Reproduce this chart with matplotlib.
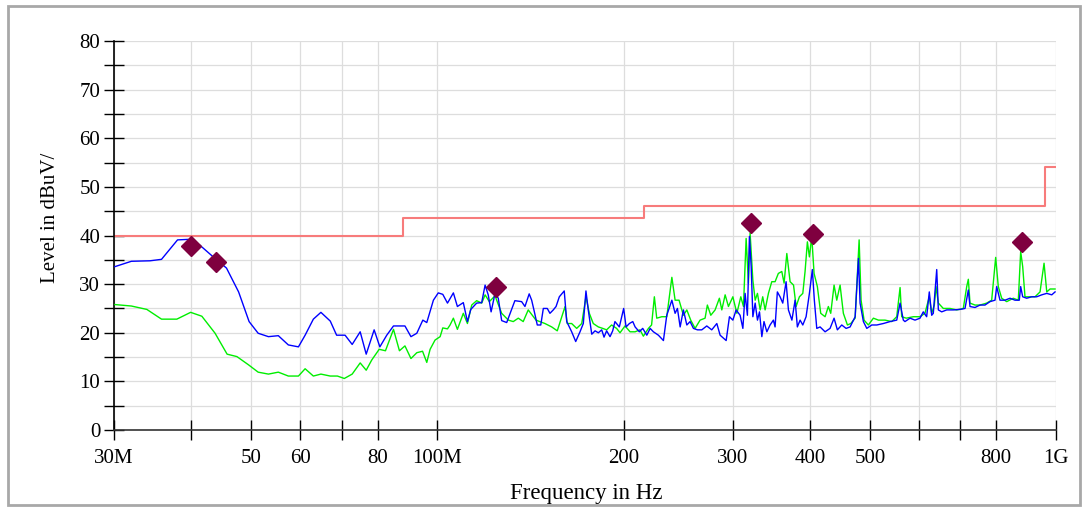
import matplotlib
matplotlib.use("Agg")
import matplotlib.pyplot as plt
from matplotlib.patches import Rectangle
from matplotlib.ticker import FixedLocator, MultipleLocator, NullFormatter

plt.rcParams['font.family'] = ['Liberation Serif', 'DejaVu Serif']

# Peak trace (blue), frequency in MHz, level in dBuV
blue_f = [30.1, 32.0, 34.3, 35.8, 38.0, 39.5, 41.3, 43.4, 45.6, 47.7, 49.6, 51.3,
          53.3, 55.3, 57.4, 59.6, 61.1, 63.0, 64.8, 67.1, 68.7, 70.9, 72.8, 75.0,
          76.7, 79.0, 80.7, 82.8, 84.9, 87.0, 88.6, 90.6, 92.6, 94.7, 96.1, 98.5,
          100.3, 102.0, 103.8, 106.1, 107.7, 110.1, 111.8, 113.2, 115.7, 117.9, 119.4,
          120.8, 122.1, 123.9, 125.4, 127.0, 129.4, 133.4, 136.8, 138.5, 140.7, 142.0,
          143.2, 145.0, 146.9, 148.3, 150.5, 152.0, 153.9, 155.5, 157.4, 160.3, 161.8,
          164.8, 167.3, 170.0, 172.1, 173.8, 175.3, 177.6, 179.8, 182.0, 184.3, 185.9,
          187.7, 190.1, 192.0, 193.6, 196.8, 200.0, 201.8, 204.3, 206.9, 208.7, 212.0,
          214.7, 218.0, 220.7, 223.4, 227.6, 231.9, 234.8, 239.3, 242.2, 244.3, 246.8,
          249.8, 253.0, 256.1, 259.3, 263.2, 267.5, 272.5, 277.6, 282.9, 286.4, 292.9,
          296.5, 300.3, 304.0, 308.5, 311.7, 314.3, 317.0, 319.4, 321.5, 323.5, 326.3,
          329.1, 331.6, 334.5, 337.2, 340.8, 344.9, 349.2, 351.4, 354.4, 358.0, 361.6,
          366.1, 369.3, 374.1, 378.6, 381.8, 385.7, 389.6, 394.4, 399.3, 403.7, 406.7,
          410.4, 415.5, 423.3, 431.2, 437.7, 443.1, 450.4, 457.7, 464.6, 473.4, 479.3,
          482.2, 488.2, 494.4, 503.6, 513.2, 525.8, 539.1, 552.7, 559.6, 566.4, 569.9,
          580.7, 591.6, 602.7, 610.1, 617.8, 623.9, 629.5, 633.3, 641.4, 645.3, 653.4,
          665.7, 682.2, 699.5, 712.6, 721.5, 726.0, 739.6, 753.5, 767.6, 782.0, 796.8,
          801.8, 811.7, 827.0, 842.6, 858.4, 872.2, 876.7, 883.3, 896.6, 913.5, 930.7,
          948.2, 966.1, 984.2, 996.4]
blue_lvl = [33.6, 34.7, 34.8, 35.1, 39.1, 39.2, 38.0, 35.6, 33.3, 28.4, 22.3, 19.9,
            19.2, 19.4, 17.5, 17.1, 19.5, 22.8, 24.2, 22.4, 19.5, 19.5, 17.6, 20.2,
            15.6, 20.6, 17.1, 19.5, 21.4, 21.4, 21.4, 19.2, 19.9, 22.6, 22.1, 26.7,
            28.2, 27.9, 26.1, 28.2, 25.4, 26.2, 22.3, 24.8, 26.1, 26.2, 29.8,
            27.8, 24.3, 28.1, 27.1, 22.5, 22.1, 26.6, 26.4, 25.4, 28.0, 26.7,
            24.7, 21.6, 21.6, 25.0, 25.0, 24.0, 24.7, 25.4, 27.4, 28.6, 22.3,
            20.2, 18.2, 20.2, 21.9, 28.6, 24.7, 19.7, 20.4, 20.0, 20.6, 19.1,
            20.4, 19.2, 20.4, 22.3, 21.2, 25.0, 21.2, 21.9, 22.3, 21.2, 20.2,
            20.9, 19.5, 20.9, 20.2, 19.5, 18.4, 23.6, 26.7, 24.0, 25.0, 21.2,
            24.7, 21.6, 22.3, 20.9, 20.6, 20.6, 21.4, 20.6, 21.9, 19.5, 18.4,
            23.3, 22.6, 24.7, 23.6, 20.9, 28.1, 23.6, 39.8, 33.6, 23.3, 26.1,
            22.6, 24.3, 19.2, 22.3, 20.2, 21.6, 22.6, 21.2, 28.4, 27.4, 26.1,
            30.5, 24.7, 22.6, 26.7, 21.2, 22.6, 21.6, 23.3, 28.1, 33.0, 26.7,
            20.9, 21.2, 20.2, 20.9, 23.0, 20.6, 21.6, 20.9, 21.2, 23.3, 35.3,
            26.1, 22.3, 20.9, 21.6, 21.6, 21.9, 22.3, 22.6, 26.1, 22.6, 22.3,
            23.0, 22.6, 23.0, 24.3, 23.3, 28.4, 23.6, 24.0, 33.0, 24.7, 24.3,
            24.7, 24.7, 24.8, 25.0, 28.8, 25.4, 25.2, 25.7, 25.7, 26.4, 26.7,
            29.5, 26.7, 26.7, 27.1, 26.7, 26.7, 29.5, 27.4, 27.1, 27.4, 27.4,
            27.8, 28.1, 27.8, 28.4]

# Average trace (green)
green_f = [30.1, 32.0, 33.9, 35.8, 37.9, 39.9, 41.6, 43.7, 45.7, 47.4, 49.5, 51.3,
           53.3, 55.3, 57.4, 59.6, 61.1, 63.0, 64.8, 67.1, 68.9, 70.7, 72.8, 75.0,
           76.7, 78.3, 80.5, 82.4, 84.9, 86.8, 88.6, 90.6, 92.6, 94.6, 96.1, 97.3,
           99.1, 101.0, 102.0, 103.8, 104.8, 106.1, 107.7, 110.1, 111.8, 113.6, 115.7,
           117.9, 119.4, 121.3, 123.9, 127.0, 130.2, 132.6, 135.1, 137.6, 140.2, 144.3,
           149.2, 153.0, 156.2, 160.8, 162.1, 164.8, 167.9, 171.1, 173.8, 176.0, 178.6,
           182.0, 185.0, 187.7, 191.2, 194.8, 197.3, 201.0, 204.8, 208.7, 212.5, 215.2,
           219.3, 221.9, 224.2, 226.2, 230.5, 234.8, 239.3, 242.2, 245.8, 249.8, 253.0,
           256.7, 260.9, 265.8, 270.8, 273.1, 276.6, 281.1, 285.6, 288.2, 291.8, 295.4,
           300.3, 304.8, 309.3, 312.4, 315.5, 318.2, 320.2, 323.5, 326.3, 329.1, 332.4,
           335.6, 338.6, 342.8, 347.1, 351.4, 355.7, 360.3, 363.4, 367.1, 371.6, 376.4,
           380.0, 384.7, 389.6, 392.9, 396.3, 399.3, 402.8, 406.3, 411.3, 416.5, 423.3,
           428.5, 432.3, 437.7, 442.1, 447.6, 453.1, 460.0, 465.8, 473.4, 480.5, 484.0,
           489.4, 497.3, 506.7, 516.3, 529.1, 542.5, 552.7, 559.6, 563.0, 572.6, 587.8,
           602.7, 613.9, 623.9, 629.5, 635.7, 639.7, 645.3, 657.3, 673.9, 690.9, 708.1,
           717.2, 721.5, 726.0, 739.6, 753.5, 772.5, 787.0, 798.8, 806.6, 816.9, 832.2,
           853.0, 869.0, 876.7, 883.3, 890.9, 907.7, 924.8, 942.2, 956.4, 966.1, 978.0,
           996.4]
green_lvl = [25.8, 25.5, 24.8, 22.8, 22.8, 24.2, 23.4, 19.9, 15.6, 15.1, 13.4, 11.9,
             11.5, 11.9, 11.1, 11.1, 12.6, 11.1, 11.5, 11.1, 11.1, 10.6, 11.5, 13.8,
             12.3, 14.4, 16.6, 16.3, 20.7, 16.3, 17.3, 14.7, 15.9, 16.2, 13.9, 16.6,
             18.5, 19.2, 21.0, 20.8, 21.6, 23.0, 20.7, 24.0, 21.9, 25.7, 26.6,
             26.1, 27.8, 26.4, 27.6, 24.0, 22.6, 22.3, 23.0, 22.3, 24.7, 22.6,
             21.9, 21.2, 20.4, 25.4, 21.9, 21.9, 20.9, 21.9, 27.4, 24.0, 21.9,
             21.2, 20.9, 20.6, 21.6, 20.9, 20.0, 21.4, 20.2, 20.2, 20.6, 19.3,
             20.9, 21.6, 27.4, 23.0, 23.3, 23.3, 31.4, 26.7, 26.7, 23.6, 24.7,
             22.6, 20.9, 22.6, 23.0, 25.7, 23.6, 24.7, 27.1, 24.7, 27.8, 25.4,
             27.4, 24.0, 27.4, 25.4, 39.4, 30.2, 40.5, 30.8, 26.7, 28.1, 24.7,
             27.4, 24.7, 28.1, 30.5, 30.5, 32.2, 32.6, 30.2, 36.3, 30.5, 29.8,
             25.4, 27.4, 28.1, 32.6, 38.7, 35.6, 39.8, 32.2, 29.5, 24.0, 23.3,
             25.4, 24.0, 29.8, 26.7, 29.8, 24.0, 21.6, 21.9, 23.0, 39.1, 26.7,
             22.6, 21.6, 23.0, 22.6, 22.6, 22.3, 23.3, 29.3, 23.3, 23.0, 23.3,
             23.3, 24.0, 27.4, 24.0, 25.7, 29.5, 26.1, 25.0, 25.0, 24.7, 25.0,
             29.5, 31.0, 26.1, 25.7, 25.7, 26.1, 26.7, 35.5, 29.5, 27.1, 26.4,
             27.1, 26.7, 36.7, 33.6, 27.4, 27.4, 27.4, 28.4, 34.3, 28.4, 29.0,
             29.0]

# Final measurement peaks
marker_f = [40.0, 43.9, 124.2, 321.1, 404.3, 880.0]
marker_lvl = [37.9, 34.5, 29.5, 42.6, 40.4, 38.7]

# Limit line (step)
limit_f = [30, 88, 88, 216, 216, 960, 960, 1000]
limit_lvl = [40, 40, 43.5, 43.5, 46, 46, 54, 54]

tick_f = [30, 40, 50, 60, 70, 80, 100, 200, 300, 400, 500, 600, 700, 800, 1000]
tick_lab = ['30M', '', '50', '60', '', '80', '100M', '200', '300', '400', '500',
            '', '', '800', '1G']

fig = plt.figure(figsize=(10.86, 5.08), dpi=100)
ax = fig.add_axes([0.105, 0.1535, 0.8674, 0.7658])

ax.plot(limit_f, limit_lvl, color='#f77b7b', lw=1.5, zorder=2)
ax.plot(green_f, green_lvl, color='#00ee00', lw=1.0, zorder=3)
ax.plot(blue_f, blue_lvl, color='#0000ff', lw=1.0, zorder=4)
ax.plot(marker_f, marker_lvl, ls='none', marker='D', ms=10.5, color='#7f003f', zorder=5)

ax.set_xscale('log')
ax.set_xlim(30, 1000)
ax.set_ylim(0, 80)

ax.xaxis.set_major_locator(FixedLocator(tick_f))
ax.xaxis.set_minor_locator(FixedLocator([]))
ax.xaxis.set_minor_formatter(NullFormatter())
ax.set_xticks(tick_f, tick_lab)
ax.yaxis.set_major_locator(MultipleLocator(10))
ax.yaxis.set_minor_locator(MultipleLocator(5))

ax.grid(True, which='major', color='#dddddd', lw=0.9)
ax.grid(True, which='minor', axis='y', color='#dddddd', lw=0.9)
ax.set_axisbelow(True)

for s in ['top', 'right']:
    ax.spines[s].set_visible(False)
ax.spines['left'].set_color('black')
ax.spines['bottom'].set_color('#333333')
ax.spines['left'].set_linewidth(1.2)
ax.spines['bottom'].set_linewidth(1.2)

ax.tick_params(axis='both', which='both', direction='inout', length=14, width=1.0,
               labelsize=15, colors='black')
ax.tick_params(axis='x', pad=7)
ax.tick_params(axis='y', pad=3)

ax.set_ylabel('Level in dBuV/', fontsize=15)
ax.yaxis.set_label_coords(-0.057, 0.545)
fig.text(0.540, 0.029, 'Frequency in Hz', ha='center', va='center', fontsize=16.5)

fig.patches.append(Rectangle((0.0075, 0.006), 0.987, 0.982, transform=fig.transFigure,
                             fill=False, edgecolor='#a8a8a8', lw=2))

fig.savefig('out.png', dpi=100)
